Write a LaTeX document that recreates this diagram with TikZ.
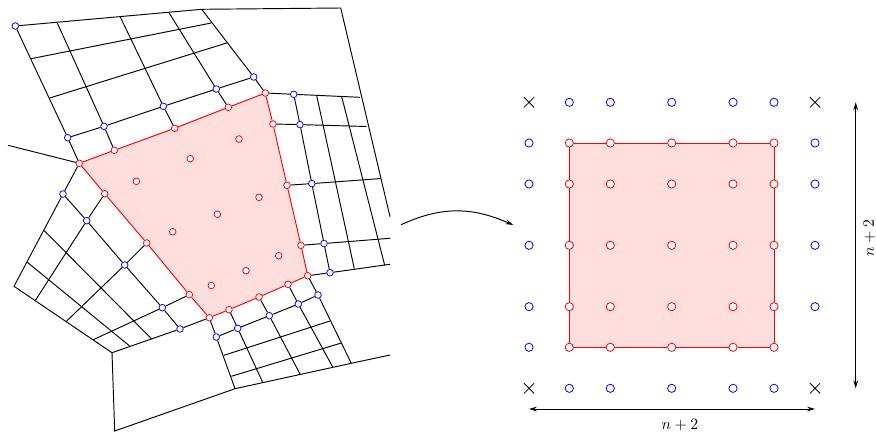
\documentclass[tikz,border=0pt]{standalone}
\usepackage{amsmath,amssymb}
\usepackage{xcolor}
\usetikzlibrary{arrows.meta, shapes.misc, backgrounds}
\definecolor{patchred}{RGB}{255,222,222}

\begin{document}
\begin{tikzpicture}[
  x=0.0223cm, y=-0.0223cm,
  mesh/.style={line width=0.6pt, color=black},
  patch/.style={line width=0.6pt, color=red},
  redpt/.style={circle, draw=red, fill=white, line width=0.5pt, inner sep=0pt, minimum size=4.2pt},
  bluept/.style={circle, draw=blue, fill=white, line width=0.5pt, inner sep=0pt, minimum size=4.2pt},
  gridpt/.style={minimum size=5.2pt},
  crosspt/.style={cross out, draw=black, line width=0.5pt, inner sep=0pt, minimum size=6pt},
  arr/.style={{Stealth[length=5pt,width=3pt]}-{Stealth[length=5pt,width=3pt]}, line width=0.6pt}
]
  \useasboundingbox (0,0) rectangle (876,432);

  % patch boundary and interior points
  \foreach \name/\pos in {ra/{79.3,163.3}, rb/{265.3,93}, rc/{307.7,275.7}, rd/{209.3,317.7},
      t1/{114.3,150.3}, t2/{174.7,128.3}, t3/{228.3,107.3},
      r1/{273,124}, r2/{287,185.3}, r3/{301,245.3},
      b1/{288,284.3}, b2/{259,297}, b3/{229,309.7},
      l1/{104.7,193.7}, l2/{146.7,243}, l3/{189.3,294.7},
      i1/{239,139}, i2/{190.3,158.7}, i3/{136.3,181.3},
      i4/{259,197.3}, i5/{217.3,214.3}, i6/{172.7,231.7},
      i7/{278.7,255.7}, i8/{246,270.7}, i9/{211.3,285.5}}
    \node[redpt] (\name) at (\pos) {};

  % neighbouring points
  \foreach \name/\pos in {bt0/{15.3,26}, bt1/{67.7,137.7}, bt2/{104,126.3}, bt3/{163.3,106.3},
      bt4/{216.3,89}, bt5/{253.7,77},
      br1/{293.7,94.3}, br2/{300,124.6}, br3/{311.8,183.6}, br4/{324,243.5}, br5/{330,272.7},
      bb1/{318,295}, bb2/{298.3,304}, bb3/{269.3,315.7}, bb4/{237.7,328.3}, bb5/{216.3,337},
      bl1/{63,194}, bl2/{86.7,220.7}, bl3/{124.7,265}, bl4/{162.3,307.7}, bl5/{180,329}}
    \node[bluept] (\name) at (\pos) {};

  % free ends of the mesh lines
  \foreach \name/\pos in {c1/{201.7,9.3}, c2/{340.7,8}, c3/{360,97.3}, c4/{390,216.7},
      tl1/{31,58.7}, tr1/{211.3,23}, tl2/{49.7,98}, tr2/{226.7,43},
      tv1/{57.3,23}, tv2/{120.3,17}, tv3/{169,12.7},
      e1/{366.7,126.5}, e2/{380.3,178.6}, e3/{390,238.3}, e4/{390,264.3},
      rv1/{316.7,95.7}, rw1/{354.3,268.7}, rv2/{341.7,96.7}, rw2/{384.7,265.3},
      f1/{351.3,363.3}, f2/{332.7,367}, f3/{300,374}, f4/{262.7,382.3}, f5/{235,388.7}, f6/{390,355},
      bl6/{224,355.3}, bm6/{330,321}, bl7/{231.3,376.3}, bm7/{341.3,343},
      g1/{114.7,431}, g2/{112,352.7}, g3/{14,286.3},
      ll1/{44.3,230.7}, lm1/{151.7,339}, ll2/{27,262}, lm2/{130,346.3},
      lc1/{35,301}, lc2/{66,321.7}, lc3/{93.3,339.7}, wh/{8,145.3}}
    \coordinate (\name) at (\pos);

  % upper block
  \draw[mesh] (bt0) -- (c1) -- (c2) -- (c4);
  \draw[mesh] (bt0) -- (bt1) -- (ra);
  \draw[mesh] (c1) -- (bt5) -- (rb);
  \draw[mesh] (bt1) -- (bt2) -- (bt3) -- (bt4) -- (bt5);
  \draw[mesh] (tl1) -- (tr1);
  \draw[mesh] (tl2) -- (tr2);
  \draw[mesh] (tv1) -- (bt2) -- (t1);
  \draw[mesh] (tv2) -- (bt3) -- (t2);
  \draw[mesh] (tv3) -- (bt4) -- (t3);
  \draw[mesh] (wh) -- (ra);

  % right block
  \draw[mesh] (rb) -- (br1) -- (c3);
  \draw[mesh] (r1) -- (br2) -- (e1);
  \draw[mesh] (r2) -- (br3) -- (e2);
  \draw[mesh] (r3) -- (br4) -- (e3);
  \draw[mesh] (rc) -- (br5) -- (e4);
  \draw[mesh] (br1) -- (br2) -- (br3) -- (br4) -- (br5);
  \draw[mesh] (rv1) -- (rw1);
  \draw[mesh] (rv2) -- (rw2);

  % lower block
  \draw[mesh] (rc) -- (bb1) -- (f1);
  \draw[mesh] (b1) -- (bb2) -- (f2);
  \draw[mesh] (b2) -- (bb3) -- (f3);
  \draw[mesh] (b3) -- (bb4) -- (f4);
  \draw[mesh] (rd) -- (bb5) -- (f5);
  \draw[mesh] (bb5) -- (bb4) -- (bb3) -- (bb2) -- (bb1);
  \draw[mesh] (bl6) -- (bm6);
  \draw[mesh] (bl7) -- (bm7);
  \draw[mesh] (f5) -- (f1) -- (f6);
  \draw[mesh] (f5) -- (g1) -- (g2);

  % left block
  \draw[mesh] (ra) -- (bl1) -- (g3) -- (g2) -- (bl5) -- (rd);
  \draw[mesh] (bl1) -- (bl2) -- (bl3) -- (bl4) -- (bl5);
  \draw[mesh] (ll1) -- (lm1);
  \draw[mesh] (ll2) -- (lm2);
  \draw[mesh] (l1) -- (bl2) -- (lc1);
  \draw[mesh] (l2) -- (bl3) -- (lc2);
  \draw[mesh] (l3) -- (bl4) -- (lc3);

  % patch outline
  \begin{scope}[on background layer]
    \fill[patchred] (ra.center) -- (rb.center) -- (rc.center) -- (rd.center) -- cycle;
  \end{scope}
  \draw[patch] (ra) -- (t1) -- (t2) -- (t3) -- (rb) -- (r1) -- (r2) -- (r3) -- (rc)
               -- (b1) -- (b2) -- (b3) -- (rd) -- (l3) -- (l2) -- (l1) -- (ra);

  % map to the unit square
  \coordinate (mapfrom) at (401,224.7);
  \coordinate (mapto) at (513.3,225);
  \draw[-{Stealth[length=5pt,width=3pt]}, line width=0.6pt]
       (mapfrom) .. controls (441,206.5) and (471,206.5) .. (mapto);

  % parameter grid
  \foreach \x/\i in {569.3/1,610.3/2,671.7/3,733/4,774/5}
    \foreach \y/\j in {143/1,184/2,245.3/3,306.7/4,347.3/5}
      \node[redpt, gridpt] (p\i\j) at (\x,\y) {};
  \begin{scope}[on background layer]
    \fill[patchred] (p11.center) rectangle (p55.center);
  \end{scope}
  \draw[patch] (p11) -- (p21) -- (p31) -- (p41) -- (p51) -- (p52) -- (p53) -- (p54) -- (p55)
               -- (p45) -- (p35) -- (p25) -- (p15) -- (p14) -- (p13) -- (p12) -- (p11);

  \foreach \x/\i in {569.3/1,610.3/2,671.7/3,733/4,774/5} {
    \node[bluept, gridpt] (qt\i) at (\x,102.3) {};
    \node[bluept, gridpt] (qb\i) at (\x,388.3) {};
  }
  \foreach \y/\j in {143/1,184/2,245.3/3,306.7/4,347.3/5}
    \node[bluept, gridpt] (ql\j) at (529,\y) {};
  \foreach \y/\j in {143/1,184/2,245.3/3,306.7/4}
    \node[bluept, gridpt] (qr\j) at (815,\y) {};

  \node[crosspt] (xnw) at (529,102.3) {};
  \node[crosspt] (xne) at (815,102.3) {};
  \node[crosspt] (xsw) at (529,388.3) {};
  \node[crosspt] (xse) at (815,388.3) {};

  % sizes
  \coordinate (hleft) at (529,409);
  \coordinate (hright) at (815,409);
  \coordinate (vtop) at (855.7,102.3);
  \coordinate (vbot) at (855.7,388.3);
  \draw[arr] (hleft) -- (hright);
  \draw[arr] (vtop) -- (vbot);
  \node (hsize) at (680,425.5) {$n+2$};
  \node[rotate=90] (vsize) at (869.5,238) {$n+2$};
\end{tikzpicture}
\end{document}
